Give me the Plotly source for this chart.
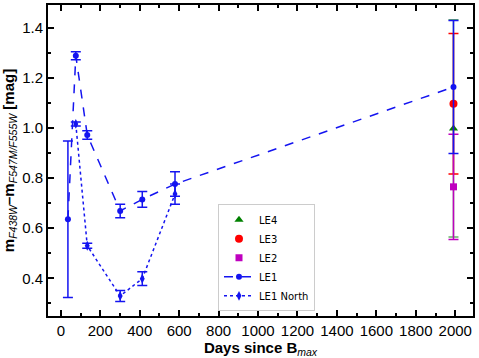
import plotly.graph_objects as go

# LE1 (dashed)
le1_days = [36, 76, 134, 301, 413, 579, 1991]
le1_col = [0.636, 1.288, 0.972, 0.669, 0.715, 0.776, 1.163]
le1_err = [0.312, 0.016, 0.017, 0.027, 0.031, 0.049, 0.265]

# LE1 North (dotted)
north_days = [76, 134, 301, 413, 579]
north_col = [1.016, 0.530, 0.330, 0.399, 0.736]
north_err = [0.008, 0.010, 0.022, 0.027, 0.040]

# single epoch light echoes
le2_days, le2_col, le2_err = [1991], [0.765], [0.210]
le3_days, le3_col, le3_err = [1991], [1.096], [0.280]
le4_days, le4_col, le4_err = [1991], [0.998], [0.433]

blue = "#1414f0"

fig = go.Figure()

def err(vals, color):
    return dict(type="data", array=vals, visible=True, color=color, thickness=1.5, width=5)

fig.add_trace(go.Scatter(x=le4_days, y=le4_col, mode="markers", name="LE4",
                         marker=dict(symbol="triangle-up", size=8, color="green"),
                         error_y=err(le4_err, "rgba(0,128,0,0.6)")))
fig.add_trace(go.Scatter(x=le3_days, y=le3_col, mode="markers", name="LE3",
                         marker=dict(symbol="circle", size=8, color="red"),
                         error_y=err(le3_err, "red")))
fig.add_trace(go.Scatter(x=le2_days, y=le2_col, mode="markers", name="LE2",
                         marker=dict(symbol="square", size=7, color="#bf00bf"),
                         error_y=err(le2_err, "#bf00bf")))
fig.add_trace(go.Scatter(x=le1_days, y=le1_col, mode="lines+markers", name="LE1",
                         line=dict(color=blue, dash="dash", width=1.5),
                         marker=dict(symbol="circle", size=6, color=blue),
                         error_y=err(le1_err, blue)))
fig.add_trace(go.Scatter(x=north_days, y=north_col, mode="lines+markers", name="LE1 North",
                         line=dict(color=blue, dash="dot", width=1.5),
                         marker=dict(symbol="diamond-tall", size=7, color=blue),
                         error_y=err(north_err, blue)))

axis_common = dict(showline=True, linecolor="black", linewidth=2, mirror="ticks",
                   ticks="inside", ticklen=6, tickwidth=1.5, tickcolor="black",
                   showgrid=False, zeroline=False, automargin=False,
                   tickfont=dict(family="Liberation Sans", size=15, color="black"))

fig.update_xaxes(range=[-65, 2090], dtick=200, tick0=0,
                 minor=dict(dtick=100, ticks="inside", ticklen=3, tickcolor="black"),
                 title=dict(text="<b>Days since B</b><sub><i>max</i></sub>",
                            font=dict(family="Liberation Sans", size=15, color="black")),
                 **axis_common)
fig.update_yaxes(range=[0.25, 1.49], dtick=0.2, tick0=0.4, tickformat=".1f",
                 minor=dict(dtick=0.1, ticks="inside", ticklen=3, tickcolor="black"),
                 title=dict(text="<b>m</b><sub><i>F438W</i></sub><b>–m</b><sub><i>F547M/F555W</i></sub><b> [mag]</b>",
                            font=dict(family="Liberation Sans", size=15, color="black")),
                 **axis_common)

fig.update_layout(
    width=479, height=358,
    template="plotly_white",
    margin=dict(l=48, r=6, t=5, b=42),
    font=dict(family="Liberation Sans", color="black"),
    showlegend=True,
    legend=dict(x=0.40, y=0.015, xanchor="left", yanchor="bottom",
                bgcolor="white", bordercolor="#cccccc", borderwidth=1,
                font=dict(family="DejaVu Sans", size=10, color="black"),
                tracegroupgap=0),
)

fig.write_html("out.html", config={"displayModeBar": False},
               post_script="document.body.style.margin='0';")
